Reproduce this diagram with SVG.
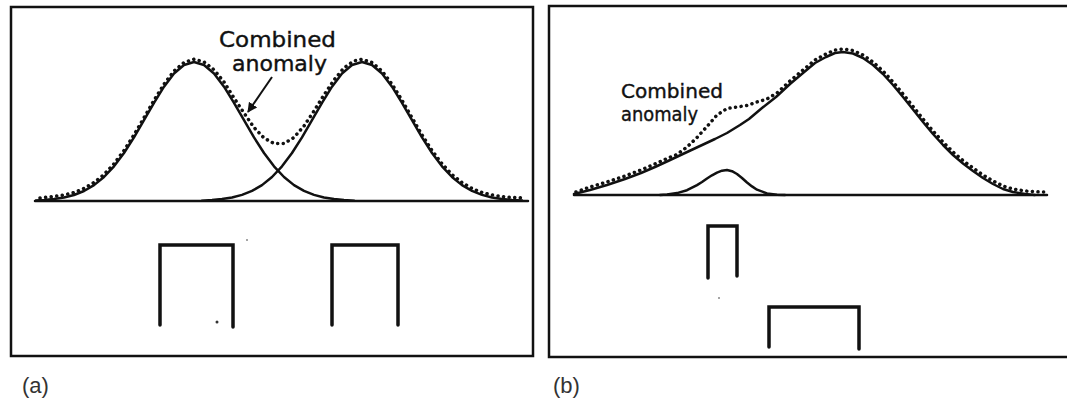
<svg xmlns="http://www.w3.org/2000/svg" width="1067" height="405" viewBox="0 0 1067 405">
<style>
.frame{fill:none;stroke:#111;stroke-width:2.5}
.base{fill:none;stroke:#111;stroke-width:2.5;stroke-linecap:round}
.curve{fill:none;stroke:#111;stroke-width:2.5;stroke-linejoin:round;stroke-linecap:round}
.dots{fill:none;stroke:#111;stroke-width:3.5;stroke-linecap:round;stroke-dasharray:0.1 5.5}
.body{fill:none;stroke:#111;stroke-width:3.5;stroke-linejoin:miter;stroke-linecap:round}
.lbl{font-family:"DejaVu Sans",sans-serif;fill:#111;stroke:#111;stroke-width:0.4}
.cap{font-family:"Liberation Sans",Arial,sans-serif;font-size:22px;fill:#333}
.speck{fill:#333}
</style>
<defs>
<marker id="ah" viewBox="0 0 10 10" refX="9" refY="5" markerWidth="5" markerHeight="5" orient="auto">
<path d="M0,0 L10,5 L0,10 z" fill="#111"/>
</marker>
</defs>
<rect x="11" y="7" width="522" height="349" class="frame"/>
<rect x="549" y="6" width="520" height="351" class="frame"/>

<g id="panel-a">
<line x1="35" y1="201" x2="528" y2="201" class="base"/>
<polyline id="a-left" class="curve" points="36,200.5 44,200 54,199 64,197.5 74,195 84,191 94,185.1 104,177 114,166.3 124,153 134,137.4 144,120.2 154,102.8 164,86.7 174,73.5 184,65 194,62 204,65 214,73.5 224,86.7 234,102.8 244,120.2 254,137.4 264,153 274,166.3 284,177 294,185.1 304,190.9 314,194.9 324,197.5 334,199 344,200 354,200.7"/>
<polyline id="a-right" class="curve" points="202,200.7 212,200 222,199 232,197.5 242,194.9 252,190.9 262,185.1 272,177 282,166.3 292,153 302,137.4 312,120.2 322,102.8 332,86.7 342,73.5 352,65 362,62 372,65 382,73.5 392,86.7 402,102.8 412,120.2 422,137.4 432,153 442,166.3 452,177 462,185.1 472,190.9 482,194.9 492,197.5 502,199 512,200 522,200.5"/>
<polyline id="a-combined" class="dots" points="40,198 44,197.5 54,196.5 64,195 74,192.5 84,188.5 94,182.5 104,174.5 114,163.8 124,150.5 134,134.9 144,117.7 154,100.3 164,84.2 174,71 184,62.5 194,59.2 204,61.9 214,69.8 224,82 234,98 244,113 254,127.5 264,138 274,143.5 284,143.5 294,137.5 304,126 314,111 324,95 334,80 344,67.8 354,60.9 362,59.3 372,62.5 382,71 392,84.2 402,100.3 412,117.7 422,134.9 432,150.5 442,163.8 452,174.5 462,182.5 472,188.5 482,192.5 492,195 502,196.5 512,197.5 524,198"/>
</g>

<g id="label-a">
<text class="lbl" x="219" y="47" font-size="22" textLength="117" lengthAdjust="spacingAndGlyphs">Combined</text>
<text class="lbl" x="232" y="71" font-size="22" textLength="95" lengthAdjust="spacingAndGlyphs">anomaly</text>
</g>

<g id="connectors">
<line x1="272" y1="77" x2="248" y2="112" stroke="#111" stroke-width="2" marker-end="url(#ah)"/>
</g>

<g id="body-a1"><polyline class="body" points="160,325 160,245 233,245 233,327"/></g>
<g id="body-a2"><polyline class="body" points="332,325 332,245 398,245 398,325"/></g>

<g id="panel-b">
<line x1="574" y1="195" x2="1047" y2="195" class="base"/>
<polyline id="b-big" class="curve" points="574,194 590,190 607,185 625,179 641,173 655,167 668,161 685,153 700,146 715,139 727,133 740,125 749,119 762,108 776,97 790,84 803,73 815,63 826,57 835,53 843,52 853,53.5 863,58 873,65 883,74 893,85 903,97 913,109.5 923,122 933,134 943,145 953,155 963,163.5 973,171 983,178 993,184 1003,189 1013,192 1025,194 1035,195"/>
<polyline id="b-small" class="curve" points="660,195 667,194.4 677,193.1 687,190.2 697,185.1 702,182 707,178.5 712,175.3 717,172.6 722,170.7 727,170 732,171.2 737,174 742,178 747,182.5 752,186.4 757,189.7 767,193.4 777,194.7 785,195"/>
<polyline id="b-combined" class="dots" points="576,192 590,187 607,182 625,176 641,170 655,164 668,158 677,154.5 687,147 697,137.5 707,126.5 717,115 727,108.5 737,107 747,105.5 757,102 767,99 777,93 790,81 803,70 815,60 826,54 835,50 843,49 853,50.5 863,55 873,62 883,71 893,82 903,94 913,106.5 923,119 933,131 943,142 953,152 963,160.5 973,168 983,175 993,181 1003,186 1013,189 1025,191 1040,192 1046,192"/>
</g>

<g id="label-b">
<text class="lbl" x="621" y="98" font-size="20" textLength="102" lengthAdjust="spacingAndGlyphs" stroke-width="0.2">Combined</text>
<text class="lbl" x="621" y="121" font-size="20" textLength="77" lengthAdjust="spacingAndGlyphs" stroke-width="0.2">anomaly</text>
</g>

<g id="body-b1"><polyline class="body" points="708,278 708,226 737,226 737,276" stroke-width="3"/></g>
<g id="body-b2"><polyline class="body" points="769,347 769,307 859,307 859,349" stroke-width="3"/></g>

<circle class="speck" cx="217" cy="322" r="1.5"/>
<circle class="speck" cx="247" cy="240" r="0.8"/>
<circle class="speck" cx="719" cy="298" r="0.8"/>

<text class="cap" x="22" y="393">(a)</text>
<text class="cap" x="553" y="393">(b)</text>
</svg>
